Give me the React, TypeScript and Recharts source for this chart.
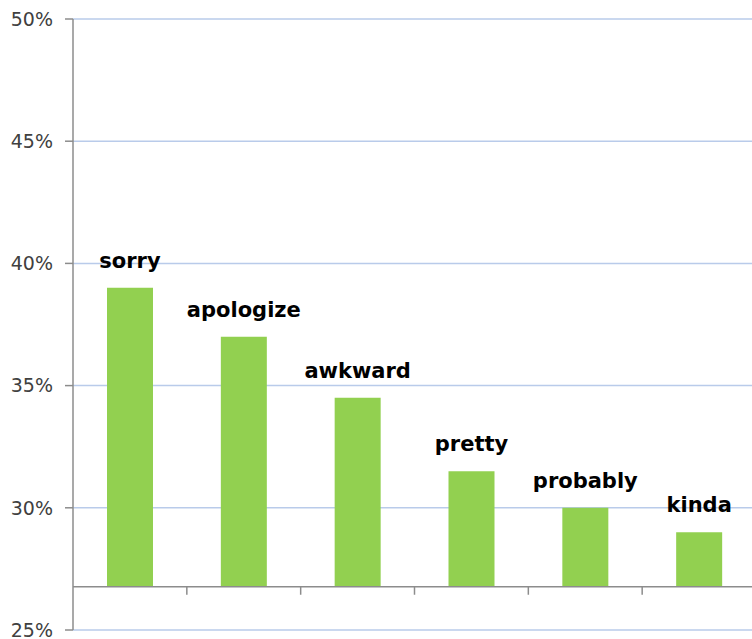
import React from 'react';
import {BarChart, Bar, XAxis, YAxis, CartesianGrid, LabelList, ReferenceLine} from 'recharts';

const words = ['sorry', 'apologize', 'awkward', 'pretty', 'probably', 'kinda'];
const shares = [39, 37, 34.5, 31.5, 30, 29];
const yTicks = [25, 30, 35, 40, 45, 50];
// the category axis crosses the value axis a bit above 25%
const axisBase = 26.77;

const data = words.map((w, i) => ({word: w, value: shares[i]}));

const AxisWithTicks = (props: any) => {
    const {x1, y1, x2} = props;
    if (x1 == null) return null;
    const band = (x2 - x1) / words.length;
    const marks = [];
    for (let i = 1; i <= words.length; i++) {
        const x = x1 + band * i;
        marks.push(<line key={i} x1={x} y1={y1} x2={x} y2={y1 + 8} stroke="#8c8c8c" strokeWidth={1.5}/>);
    }
    return (
        <g>
            <line x1={x1} y1={y1} x2={x2} y2={y1} stroke="#8c8c8c" strokeWidth={1.5}/>
            {marks}
        </g>
    );
};

const App = () => {
    return (
        <div style={{position: 'absolute', left: 0, top: 0, width: 752, height: 639, overflow: 'hidden', background: '#fff'}}>
            <BarChart width={760} height={639} data={data} margin={{top: 19, right: 4, bottom: 9, left: 0}}>
                <CartesianGrid vertical={false} stroke="#b9cbea" strokeWidth={1.5}/>
                <XAxis dataKey="word" hide/>
                <YAxis
                    width={73}
                    domain={[25, 50]}
                    ticks={yTicks}
                    interval={0}
                    tickFormatter={(v: number) => `${v}%`}
                    tick={{fill: '#404040', fontSize: 19, fontFamily: 'DejaVu Sans'}}
                    tickSize={8}
                    tickMargin={12}
                    axisLine={{stroke: '#8c8c8c', strokeWidth: 1.5}}
                    tickLine={{stroke: '#8c8c8c', strokeWidth: 1.5}}
                    allowDataOverflow
                />
                <ReferenceLine y={axisBase} shape={AxisWithTicks}/>
                <Bar dataKey={(d: any) => [axisBase, d.value]} fill="#92d050" barSize={46} isAnimationActive={false}>
                    <LabelList dataKey="word" position="top" offset={20}
                               style={{fill: '#000', fontSize: 21, fontWeight: 'bold', fontFamily: 'DejaVu Sans'}}/>
                </Bar>
            </BarChart>
        </div>
    );
};

export default App;
